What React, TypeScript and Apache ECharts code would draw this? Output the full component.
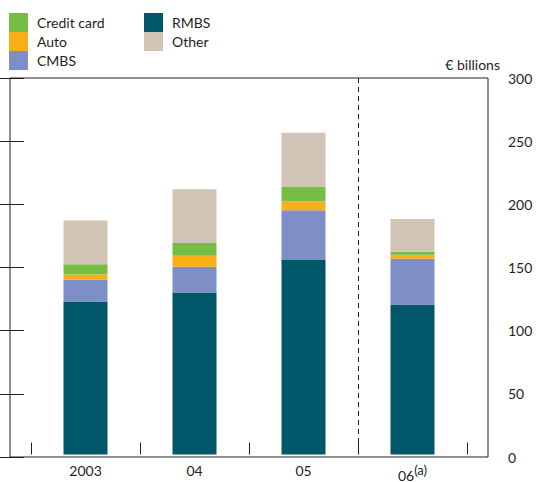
import React, { useEffect, useRef } from "react";
import * as echarts from "echarts";

const categories = ["2003", "04", "05", "06"];
const rmbs = [122, 129, 155, 119.5];
const cmbs = [17.5, 20.6, 39.6, 36.4];
const auto = [4, 8.7, 7.2, 3.2];
const creditCard = [8, 10.3, 11.8, 2.4];
const other = [35, 42.7, 42.8, 26.1];
const yTicks = { min: 0, max: 300, interval: 50 };
const dividerBefore = ["06"];

const FONT = "Lato";
const TEXT = "#231f20";

export default function App() {
  const ref = useRef<HTMLDivElement>(null);
  useEffect(() => {
    const chart = echarts.init(ref.current!, undefined, { renderer: "svg" });
    const barSeries = (name: string, data: number[], color: string) => ({
      name,
      type: "bar",
      stack: "total",
      xAxisIndex: 1,
      yAxisIndex: 2,
      barWidth: 44,
      itemStyle: { color },
      data,
    });
    const legendBase = {
      top: 13, orient: "vertical", itemGap: 0, itemWidth: 19, itemHeight: 19, padding: 0,
      icon: "rect",
      textStyle: { fontSize: 14, color: TEXT, fontFamily: FONT, padding: [0, 0, 0, 4], lineHeight: 19 },
    };
    chart.setOption({
      animation: false,
      textStyle: { fontFamily: FONT, color: TEXT },
      grid: [
        { left: 10, right: 48, top: 78, bottom: 25, show: true, borderColor: TEXT, borderWidth: 1, backgroundColor: "transparent" },
        { left: 31, right: 69, top: 78, bottom: 25 },
      ],
      legend: [
        { ...legendBase, left: 9, data: ["Credit card", "Auto", "CMBS"] },
        { ...legendBase, left: 144, data: ["RMBS", "Other"] },
      ],
      xAxis: [
        { gridIndex: 0, type: "value", show: false, min: 0, max: 1 },
        {
          gridIndex: 1, type: "category", data: categories, boundaryGap: true,
          axisLine: { show: false },
          axisTick: { show: true, inside: true, length: 12, alignWithLabel: false, lineStyle: { color: TEXT, width: 1 } },
          axisLabel: {
            margin: 9, fontSize: 14, color: TEXT, fontFamily: FONT,
            formatter: (v: string) => (v === "06" ? "06{sup|(a)}" : v),
            rich: { sup: { fontSize: 13, verticalAlign: "bottom", padding: [0, 0, 10, 0], color: TEXT, fontFamily: FONT } },
          },
          splitLine: { show: false },
        },
      ],
      yAxis: [
        {
          gridIndex: 0, type: "value", position: "right", ...yTicks,
          axisLine: { show: false },
          axisTick: { show: true, inside: true, length: 13, lineStyle: { color: TEXT, width: 1 } },
          axisLabel: { margin: 20, fontSize: 14, color: TEXT, fontFamily: FONT },
          splitLine: { show: false },
        },
        {
          gridIndex: 0, type: "value", position: "left", ...yTicks,
          axisLine: { show: false },
          axisTick: { show: true, inside: true, length: 14, lineStyle: { color: TEXT, width: 1 } },
          axisLabel: { show: false },
          splitLine: { show: false },
        },
        { gridIndex: 1, type: "value", ...yTicks, show: false },
      ],
      graphic: [
        {
          type: "text", right: 36, top: 57,
          style: { text: "€ billions", fontSize: 14, fill: TEXT, fontFamily: FONT, textAlign: "right" },
        },
      ],
      series: [
        barSeries("RMBS", rmbs, "#00576a"),
        barSeries("CMBS", cmbs, "#7e8fc8"),
        barSeries("Auto", auto, "#f9ae1a"),
        barSeries("Credit card", creditCard, "#76be43"),
        barSeries("Other", other, "#d0c4b6"),
        {
          type: "custom",
          xAxisIndex: 1,
          yAxisIndex: 2,
          silent: true,
          data: dividerBefore.map((c) => [c, yTicks.max]),
          renderItem: (params: any, api: any) => {
            const top = api.coord([api.value(0), yTicks.max]);
            const bottom = api.coord([api.value(0), yTicks.min]);
            const half = api.size([1, 0])[0] / 2;
            const x = Math.round(top[0] - half) + 0.5;
            return {
              type: "line",
              shape: { x1: x, y1: top[1], x2: x, y2: bottom[1] },
              style: { stroke: TEXT, lineWidth: 1, lineDash: [5, 4] },
            };
          },
        },
      ],
    });
    return () => chart.dispose();
  }, []);
  return <div ref={ref} style={{ width: 536, height: 482, position: "absolute", left: 0, top: 0 }} />;
}
